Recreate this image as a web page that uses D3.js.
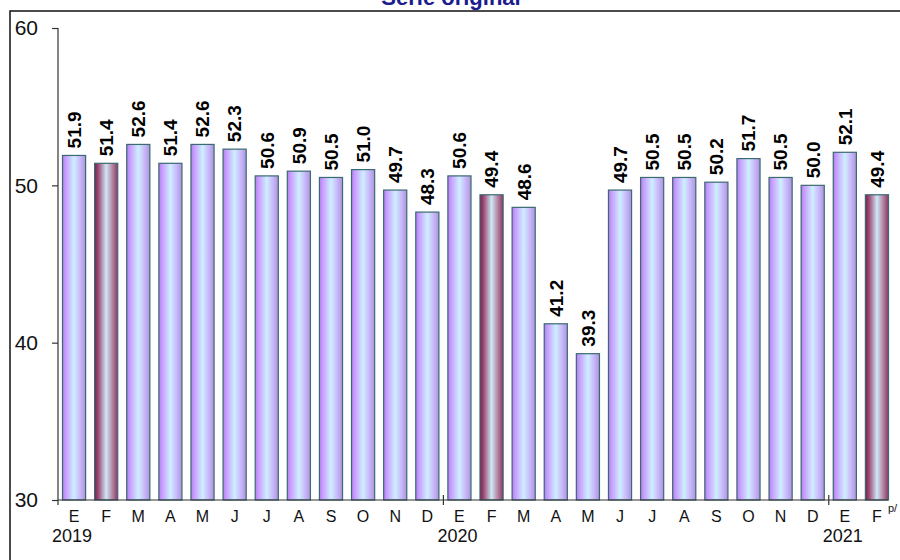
<!DOCTYPE html>
<html><head><meta charset="utf-8">
<script src="https://cdn.jsdelivr.net/npm/d3@7"></script>
<style>
html,body{margin:0;padding:0;background:#fff;}
svg{display:block;font-family:"Liberation Sans",Arial,sans-serif;}
</style></head>
<body>
<svg id="chart" width="900" height="560"></svg>
<script>
const months = ["E","F","M","A","M","J","J","A","S","O","N","D","E","F","M","A","M","J","J","A","S","O","N","D","E","F"];
const years = ["2019","2020","2021"];
const yearStartIdx = [0,12,24];
const values = [51.9,51.4,52.6,51.4,52.6,52.3,50.6,50.9,50.5,51.0,49.7,48.3,50.6,49.4,48.6,41.2,39.3,49.7,50.5,50.5,50.2,51.7,50.5,50.0,52.1,49.4];
const highlighted = [1,13,25];
const yTicks = [30,40,50,60];
const title = "Serie original";
const note = "p/";

const svg = d3.select("#chart");
const defs = svg.append("defs");
function grad(id, stops){
  const g = defs.append("linearGradient").attr("id",id).attr("x1","0%").attr("x2","100%").attr("y1","0%").attr("y2","0%");
  stops.forEach(s=>g.append("stop").attr("offset",s[0]).attr("stop-color",s[1]));
}
grad("gNorm",[["0%","#b47cf2"],["12%","#c799ff"],["50%","#cfeeff"],["80%","#c7b2f8"],["100%","#a896da"]]);
grad("gHi",[["0%","#7a1c4c"],["18%","#a0527c"],["50%","#cde8f6"],["75%","#b68aa8"],["100%","#8c3864"]]);

const x = d3.scaleBand().domain(d3.range(values.length)).range([58,893]).paddingInner(0.28).paddingOuter(0.14);
const y = d3.scaleLinear().domain([30,60]).range([500,28]);

// frame
svg.append("path").attr("d","M10,560 V11 H900").attr("fill","none").attr("stroke","#111").attr("stroke-width",1.5);

// title (partly clipped at top, as in the reference)
svg.append("text").attr("x",451).attr("y",5).attr("text-anchor","middle")
  .style("font-size","22px").attr("font-weight","bold").attr("fill","#1c1c8e").text(title);

// bars
svg.append("g").selectAll("rect").data(values).join("rect")
  .attr("x",(d,i)=>x(i)).attr("width",x.bandwidth())
  .attr("y",d=>y(d)).attr("height",d=>y(30)-y(d))
  .attr("fill",(d,i)=>highlighted.includes(i)?"url(#gHi)":"url(#gNorm)")
  .attr("stroke","#3b6a70").attr("stroke-width",1.2);

// value labels
svg.append("g").selectAll("text").data(values).join("text")
  .attr("transform",(d,i)=>`translate(${x(i)+x.bandwidth()/2},${y(d)-7}) rotate(-90)`)
  .attr("dy","0.36em").style("font-size","19px").attr("font-weight","bold").attr("fill","#000")
  .text(d=>d.toFixed(1));

// y axis
const yAxis = d3.axisLeft(y).tickValues(yTicks).tickSize(6).tickPadding(14).tickFormat(d3.format("d"));
const ga = svg.append("g").attr("transform","translate(58,0)").call(yAxis);
ga.attr("font-size",null);
ga.select(".domain").attr("d","M0,28V505").attr("stroke","#333").attr("stroke-width",1.2);
ga.selectAll(".tick line").attr("stroke","#333").attr("stroke-width",1.2);
ga.selectAll(".tick text").style("font-size","21px").attr("fill","#111").attr("font-family","Liberation Sans, Arial, sans-serif");

// x axis line
svg.append("line").attr("x1",58).attr("x2",888).attr("y1",500).attr("y2",500).attr("stroke","#333").attr("stroke-width",1.2);
// year separator ticks
svg.append("g").selectAll("line").data(yearStartIdx.slice(1)).join("line")
  .attr("x1",i=>x(i)-x.step()*x.paddingInner()/2).attr("x2",i=>x(i)-x.step()*x.paddingInner()/2)
  .attr("y1",495).attr("y2",505).attr("stroke","#333").attr("stroke-width",1.2);

// month labels
svg.append("g").selectAll("text").data(months).join("text")
  .attr("x",(d,i)=>x(i)+x.bandwidth()/2).attr("y",522).attr("text-anchor","middle")
  .style("font-size","16px").attr("fill","#111").text(d=>d);
// year labels
svg.append("g").selectAll("text").data(years).join("text")
  .attr("x",(d,k)=>x(yearStartIdx[k])+x.bandwidth()/2-2).attr("y",542).attr("text-anchor","middle")
  .style("font-size","18px").attr("fill","#111").text(d=>d);
// preliminary note
svg.append("text").attr("x",x(values.length-1)+x.bandwidth()/2+11).attr("y",512)
  .style("font-size","11px").attr("fill","#111").text(note);
</script>
</body></html>
